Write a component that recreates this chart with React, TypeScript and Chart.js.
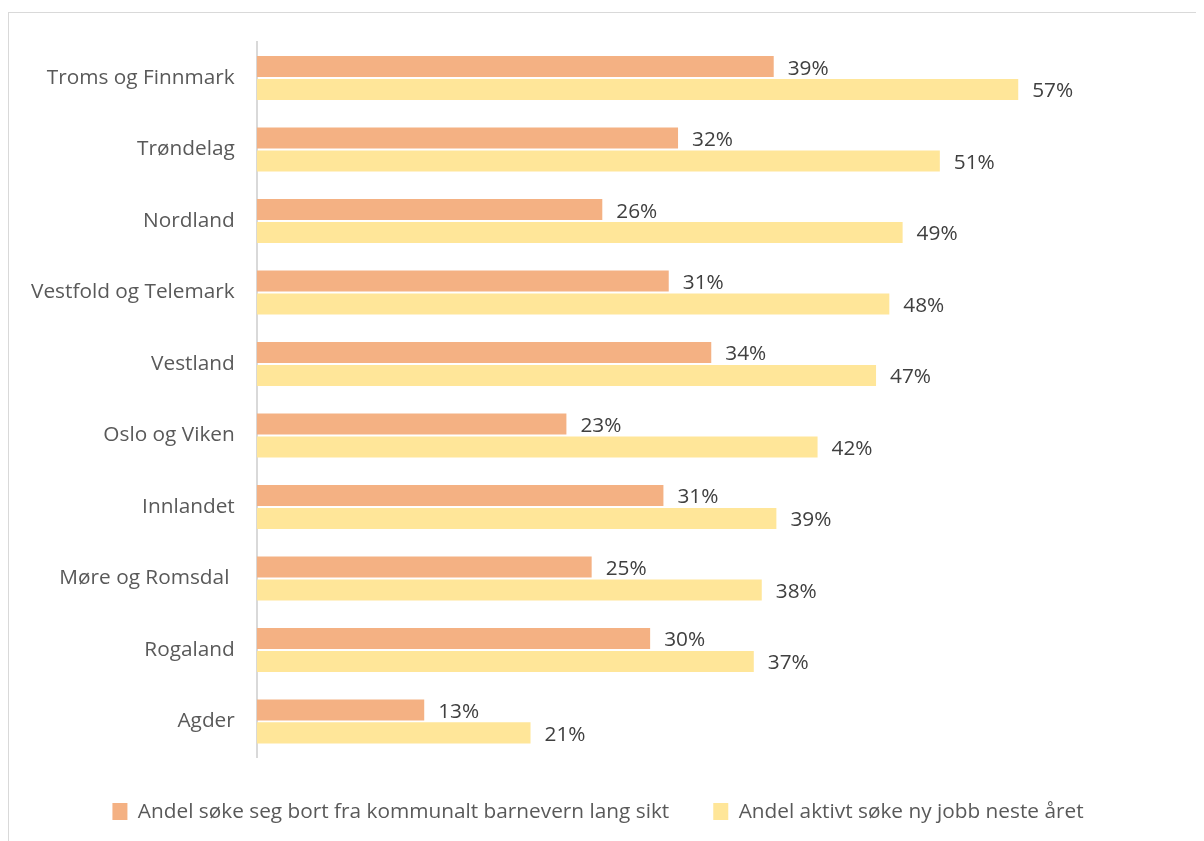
import React, { useEffect, useRef } from "react";
import { Chart, registerables } from "chart.js";

Chart.register(...registerables);

const categories = [
  "Troms og Finnmark",
  "Trøndelag",
  "Nordland",
  "Vestfold og Telemark",
  "Vestland",
  "Oslo og Viken",
  "Innlandet",
  "Møre og Romsdal ",
  "Rogaland",
  "Agder",
];

const seriesNames = [
  "Andel søke seg bort fra kommunalt barnevern lang sikt",
  "Andel aktivt søke ny jobb neste året",
];

const seriesLongTerm = [38.9, 31.7, 26.0, 31.0, 34.2, 23.3, 30.6, 25.2, 29.6, 12.6];
const seriesNextYear = [57.3, 51.4, 48.6, 47.6, 46.6, 42.2, 39.1, 38.0, 37.4, 20.6];

const colors = ["#F4B183", "#FFE699"];

const FONT = "'Open Sans', sans-serif";
const FS = 20.8;

const valueLabels = {
  id: "valueLabels",
  afterDatasetsDraw(chart: any) {
    const ctx = chart.ctx;
    ctx.save();
    ctx.font = `${FS}px ${FONT}`;
    ctx.fillStyle = "#404040";
    ctx.textAlign = "left";
    ctx.textBaseline = "middle";
    chart.data.datasets.forEach((ds: any, i: number) => {
      const meta = chart.getDatasetMeta(i);
      meta.data.forEach((bar: any, j: number) => {
        const v = ds.data[j];
        ctx.fillText(Math.round(v) + "%", bar.x + 14, bar.y + 2);
      });
    });
    ctx.restore();
  },
};

export default function App() {
  const ref = useRef<HTMLCanvasElement>(null);
  useEffect(() => {
    if (!ref.current) return;
    const chart = new Chart(ref.current, {
      type: "bar",
      data: {
        labels: categories,
        datasets: [
          {
            label: seriesNames[0],
            data: seriesLongTerm,
            backgroundColor: colors[0],
            barPercentage: 0.92,
            categoryPercentage: 0.64,
          },
          {
            label: seriesNames[1],
            data: seriesNextYear,
            backgroundColor: colors[1],
            barPercentage: 0.92,
            categoryPercentage: 0.64,
          },
        ],
      },
      options: {
        indexAxis: "y",
        animation: false,
        responsive: true,
        maintainAspectRatio: false,
        layout: { padding: { top: 14, right: 20, left: 0, bottom: 12 } },
        scales: {
          x: {
            display: false,
            min: 0,
            max: 70,
            grid: { display: false },
          },
          y: {
            grid: { display: false, drawTicks: false },
            border: { display: true, color: "#D9D9D9", width: 2 },
            ticks: {
              color: "#595959",
              font: { family: FONT, size: FS, lineHeight: 0.7 },
              padding: 22,
            },
          },
        },
        plugins: {
          legend: {
            position: "bottom",
            labels: {
              color: "#595959",
              font: { family: FONT, size: FS },
              boxWidth: 15,
              boxHeight: 17,
              padding: 44,
            },
          },
          tooltip: { enabled: false },
        },
      },
      plugins: [valueLabels],
    });
    return () => chart.destroy();
  }, []);
  return (
    <div
      style={{
        marginTop: 4,
        width: 1200,
        height: 833,
        border: "1px solid #D9D9D9",
        boxSizing: "border-box",
        background: "#fff",
      }}
    >
      <div style={{ position: "relative", width: 1198, height: 831 }}>
        <canvas ref={ref} />
      </div>
    </div>
  );
}
